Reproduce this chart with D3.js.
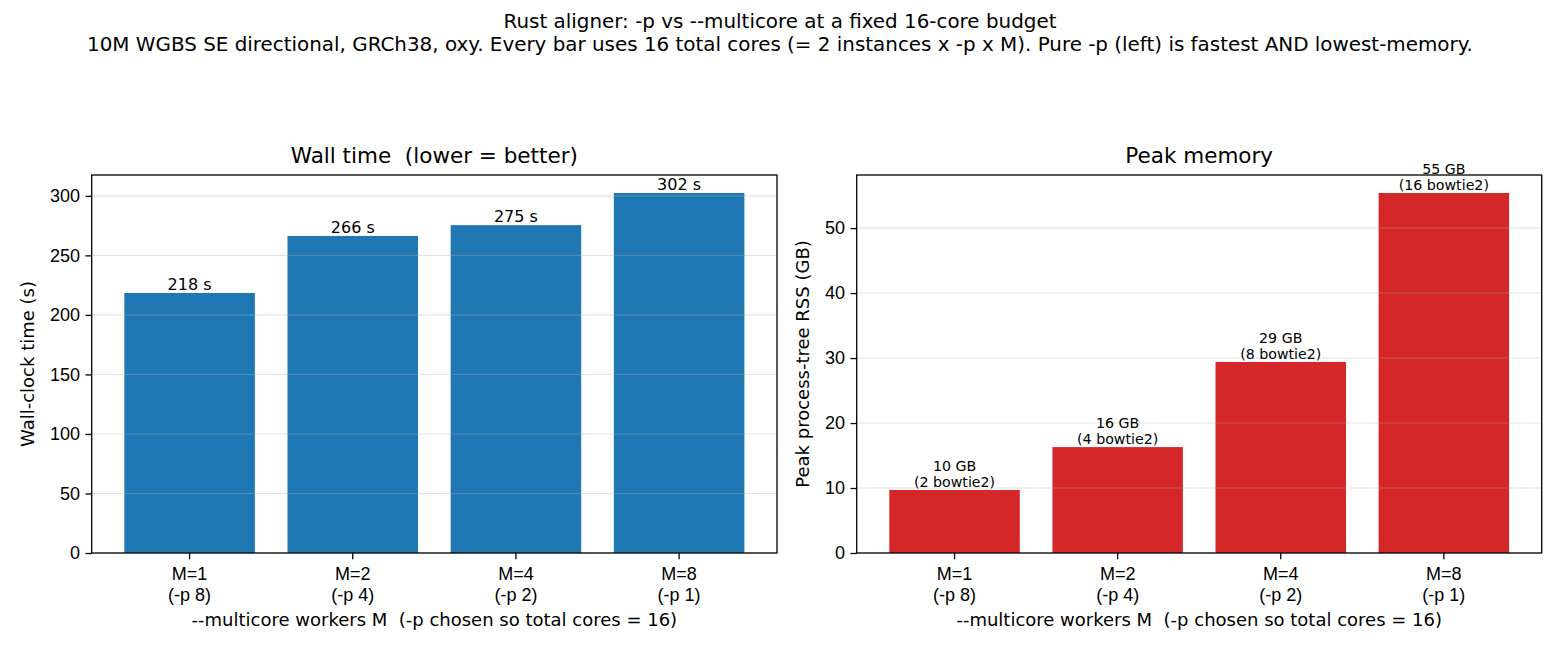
<!DOCTYPE html>
<html>
<head>
<meta charset="utf-8">
<script src="https://cdn.jsdelivr.net/npm/d3@7"></script>
<style>
    body { margin: 0; background: #fff; }
    svg { font-family: "DejaVu Sans", sans-serif; }
    text { white-space: pre; }
</style>
</head>
<body>
<div class="chart"></div>
<script>
// data
const workers = ["M=1", "M=2", "M=4", "M=8"];
const pLabels = ["(-p 8)", "(-p 4)", "(-p 2)", "(-p 1)"];
const wallSeconds = [218.4, 266.3, 275.4, 302.4];
const peakGB = [9.7, 16.3, 29.4, 55.4];
const bowtieCounts = [2, 4, 8, 16];
const wallTicks = [0, 50, 100, 150, 200, 250, 300];
const memTicks = [0, 10, 20, 30, 40, 50];

const W = 1560, H = 650;
const tickFont = 18;

const svg = d3.select(".chart").append("svg")
    .attr("width", W)
    .attr("height", H);

// suptitle
const sup = svg.append("text")
    .attr("x", W / 2)
    .attr("text-anchor", "middle")
    .style("font-size", "19.9px");
sup.append("tspan").attr("x", W / 2).attr("y", 28)
    .text("Rust aligner: -p vs --multicore at a fixed 16-core budget");
sup.append("tspan").attr("x", W / 2).attr("y", 51)
    .text("10M WGBS SE directional, GRCh38, oxy. Every bar uses 16 total cores (= 2 instances x -p x M). Pure -p (left) is fastest AND lowest-memory.");

function drawPanel(opts) {
    const x0 = opts.left, x1 = opts.right, y0 = 175, y1 = 553;
    const g = svg.append("g");

    const xScale = d3.scaleBand()
        .domain(workers)
        .range([x0, x1])
        .paddingInner(0.2)
        .paddingOuter(0.2);

    const yScale = d3.scaleLinear()
        .domain([0, d3.max(opts.values) * 1.05])
        .range([y1, y0]);

    // bars
    g.selectAll("rect.bar")
        .data(opts.values)
        .enter().append("rect")
        .attr("class", "bar")
        .attr("x", (d, i) => xScale(workers[i]))
        .attr("width", xScale.bandwidth())
        .attr("y", d => yScale(d))
        .attr("height", d => y1 - yScale(d))
        .attr("fill", opts.color);

    // grid sits above the bars, like matplotlib's default
    g.selectAll("line.grid")
        .data(opts.ticks)
        .enter().append("line")
        .attr("class", "grid")
        .attr("x1", x0).attr("x2", x1)
        .attr("y1", d => yScale(d)).attr("y2", d => yScale(d))
        .attr("stroke", "#b0b0b0")
        .attr("stroke-opacity", 0.35)
        .attr("stroke-width", 1.1);

    // y axis
    const yAxis = d3.axisLeft(yScale)
        .tickValues(opts.ticks)
        .tickSize(6.2)
        .tickPadding(5.5)
        .tickFormat(d3.format("d"));
    const ya = g.append("g")
        .attr("transform", `translate(${x0},0)`)
        .call(yAxis);
    ya.select(".domain").remove();
    ya.selectAll("text").style("font-size", tickFont + "px").attr("fill", "#000");
    ya.selectAll("line").attr("stroke", "#000").attr("stroke-width", 1.3);

    // x axis, two-line tick labels
    const xAxis = d3.axisBottom(xScale)
        .tickSize(6.2)
        .tickFormat("");
    const xa = g.append("g")
        .attr("transform", `translate(0,${y1})`)
        .call(xAxis);
    xa.select(".domain").remove();
    xa.selectAll("line").attr("stroke", "#000").attr("stroke-width", 1.3);
    xa.selectAll(".tick").each(function(d, i) {
        const t = d3.select(this).append("text")
            .attr("text-anchor", "middle")
            .attr("fill", "#000")
            .style("font-size", tickFont + "px");
        t.append("tspan").attr("x", 0).attr("y", 27).text(workers[i]);
        t.append("tspan").attr("x", 0).attr("y", 47.5).text(pLabels[i]);
    });

    // frame
    g.append("rect")
        .attr("x", x0).attr("y", y0)
        .attr("width", x1 - x0).attr("height", y1 - y0)
        .attr("fill", "none")
        .attr("stroke", "#000")
        .attr("stroke-width", 1.3);

    // bar value labels
    g.selectAll("text.val")
        .data(opts.values)
        .enter().append("text")
        .attr("class", "val")
        .attr("text-anchor", "middle")
        .style("font-size", opts.labelSize + "px")
        .each(function(d, i) {
            const cx = xScale(workers[i]) + xScale.bandwidth() / 2;
            const lines = opts.label(d, i);
            const top = yScale(d) - 3;
            lines.forEach((s, k) => {
                d3.select(this).append("tspan")
                    .attr("x", cx)
                    .attr("y", top - (lines.length - 1 - k) * opts.labelSize * 1.1)
                    .text(s);
            });
        });

    // title
    g.append("text")
        .attr("x", (x0 + x1) / 2)
        .attr("y", 163)
        .attr("text-anchor", "middle")
        .style("font-size", "21.5px")
        .text(opts.title);

    // axis labels
    g.append("text")
        .attr("x", (x0 + x1) / 2)
        .attr("y", 626)
        .attr("text-anchor", "middle")
        .style("font-size", tickFont + "px")
        .text("--multicore workers M  (-p chosen so total cores = 16)");

    g.append("text")
        .attr("transform", `translate(${opts.ylabelX},${(y0 + y1) / 2}) rotate(-90)`)
        .attr("text-anchor", "middle")
        .style("font-size", tickFont + "px")
        .text(opts.ylabel);
}

drawPanel({
    left: 91.7, right: 777,
    values: wallSeconds,
    ticks: wallTicks,
    color: "#1f77b4",
    title: "Wall time  (lower = better)",
    ylabel: "Wall-clock time (s)",
    ylabelX: 34,
    labelSize: 16,
    label: d => [d3.format(".0f")(d) + " s"]
});

drawPanel({
    left: 856.7, right: 1541.7,
    values: peakGB,
    ticks: memTicks,
    color: "#d62728",
    title: "Peak memory",
    ylabel: "Peak process-tree RSS (GB)",
    ylabelX: 809,
    labelSize: 14.2,
    label: (d, i) => [d3.format(".0f")(d) + " GB", "(" + bowtieCounts[i] + " bowtie2)"]
});
</script>
</body>
</html>
